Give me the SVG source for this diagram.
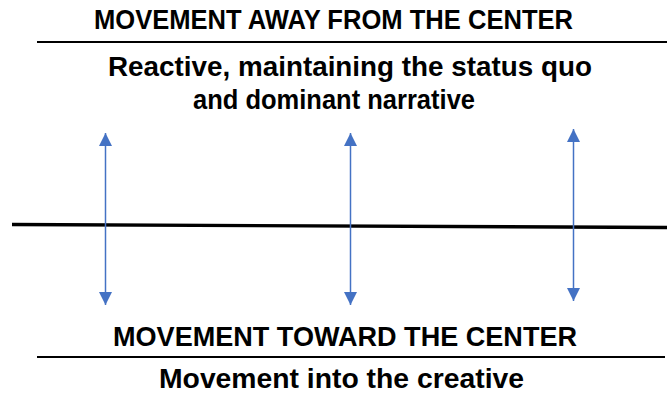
<svg xmlns="http://www.w3.org/2000/svg" width="667" height="393" viewBox="0 0 667 393">
<style>
text{font-family:"Liberation Sans",Arial,sans-serif;font-weight:bold;font-size:27px;fill:#000}
.rule{stroke:#000;stroke-width:2}
.arr{stroke:#4472C4;stroke-width:1.5;fill:none;marker-start:url(#ah);marker-end:url(#ah)}
</style>
<defs>
<marker id="ah" viewBox="0 0 10 10" refX="10" refY="5" markerWidth="17" markerHeight="13" markerUnits="userSpaceOnUse" orient="auto-start-reverse">
<path d="M0,0 L10,5 L0,10 Z" fill="#4472C4"/>
</marker>
</defs>
<rect width="667" height="393" fill="#fff"/>
<g id="top-labels">
<text x="94" y="29" textLength="479" lengthAdjust="spacingAndGlyphs">MOVEMENT AWAY FROM THE CENTER</text>
<line class="rule" x1="37" y1="42" x2="667" y2="42"/>
<text x="108" y="76" textLength="484" lengthAdjust="spacingAndGlyphs">Reactive, maintaining the status quo</text>
<text x="193" y="109" textLength="282" lengthAdjust="spacingAndGlyphs">and dominant narrative</text>
</g>
<g id="axis">
<line x1="12" y1="224.5" x2="667" y2="227.5" stroke="#000" stroke-width="3.4"/>
</g>
<g id="connectors">
<line class="arr" x1="105.5" y1="133" x2="105.5" y2="305"/>
<line class="arr" x1="350.5" y1="133" x2="350.5" y2="305"/>
<line class="arr" x1="573.5" y1="129" x2="573.5" y2="301"/>
</g>
<g id="bottom-labels">
<text x="113" y="346" textLength="464" lengthAdjust="spacingAndGlyphs">MOVEMENT TOWARD THE CENTER</text>
<line class="rule" x1="37" y1="357" x2="665" y2="357"/>
<text x="159" y="388" textLength="365" lengthAdjust="spacingAndGlyphs">Movement into the creative</text>
</g>
</svg>
